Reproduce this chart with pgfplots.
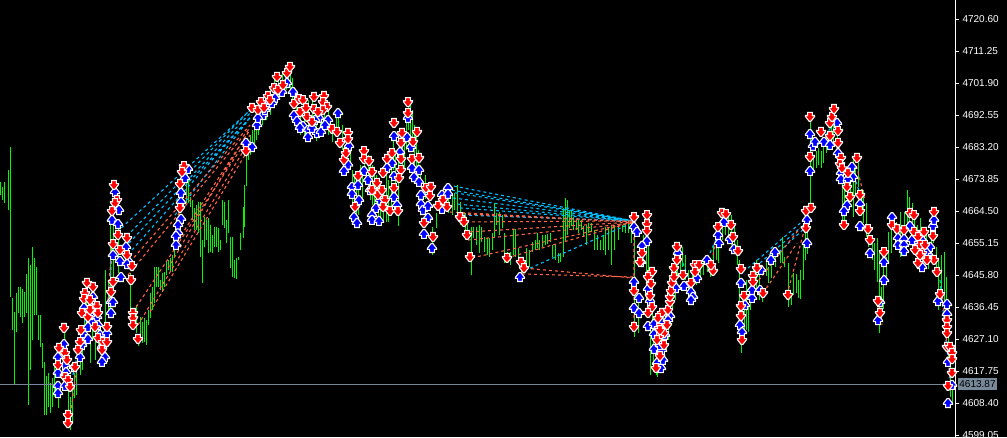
\documentclass[border=0pt]{standalone}
\usepackage{fontspec}
\setmainfont{Liberation Sans}
\usepackage{pgfplots}
\usepackage{pgfplotstable}
\pgfplotsset{compat=1.18}
\definecolor{barcol}{HTML}{00F800}
\definecolor{upline}{HTML}{00BFFF}
\definecolor{dnline}{HTML}{FF6347}
\definecolor{dnfill}{HTML}{FF0000}
\definecolor{upfill}{HTML}{0000FF}
\definecolor{bidline}{HTML}{778899}

% trade arrows, about 11 px across with the white rim, blunt tip
\pgfdeclareplotmark{dnarrow}{%
  \pgfpathmoveto{\pgfqpoint{-2.4pt}{4.5pt}}\pgfpathlineto{\pgfqpoint{2.4pt}{4.5pt}}%
  \pgfpathlineto{\pgfqpoint{2.4pt}{1.4pt}}\pgfpathlineto{\pgfqpoint{4.6pt}{1.4pt}}%
  \pgfpathlineto{\pgfqpoint{4.6pt}{0.4pt}}\pgfpathlineto{\pgfqpoint{0.9pt}{-4.4pt}}%
  \pgfpathlineto{\pgfqpoint{-0.9pt}{-4.4pt}}\pgfpathlineto{\pgfqpoint{-4.6pt}{0.4pt}}%
  \pgfpathlineto{\pgfqpoint{-4.6pt}{1.4pt}}\pgfpathlineto{\pgfqpoint{-2.4pt}{1.4pt}}%
  \pgfpathclose\pgfusepathqfillstroke}
\pgfdeclareplotmark{uparrow}{%
  \pgfpathmoveto{\pgfqpoint{-2.4pt}{-4.5pt}}\pgfpathlineto{\pgfqpoint{2.4pt}{-4.5pt}}%
  \pgfpathlineto{\pgfqpoint{2.4pt}{-1.4pt}}\pgfpathlineto{\pgfqpoint{4.6pt}{-1.4pt}}%
  \pgfpathlineto{\pgfqpoint{4.6pt}{-0.4pt}}\pgfpathlineto{\pgfqpoint{0.9pt}{4.4pt}}%
  \pgfpathlineto{\pgfqpoint{-0.9pt}{4.4pt}}\pgfpathlineto{\pgfqpoint{-4.6pt}{-0.4pt}}%
  \pgfpathlineto{\pgfqpoint{-4.6pt}{-1.4pt}}\pgfpathlineto{\pgfqpoint{-2.4pt}{-1.4pt}}%
  \pgfpathclose\pgfusepathqfillstroke}

\pgfplotstableread{
x lo hi
0 4669.2 4673.0
2 4667.7 4671.5
4 4666.8 4673.0
8 4664.8 4676.5
10 4639.4 4683.2
12 4629.7 4639.1
14 4613.6 4635.0
16 4629.1 4640.5
18 4634.7 4642.3
20 4633.5 4642.3
22 4631.8 4641.7
24 4633.5 4640.8
26 4634.7 4646.1
28 4607.8 4650.8
30 4618.0 4648.7
32 4626.8 4654.0
34 4634.1 4650.8
36 4634.1 4648.1
38 4626.8 4634.1
40 4624.8 4634.1
42 4618.6 4625.9
44 4604.9 4620.4
46 4604.9 4616.3
48 4607.2 4617.2
50 4605.5 4614.2
52 4607.2 4615.7
54 4610.1 4619.5
58 4606.9 4611.3
64 4625.9 4629.1
68 4602.5 4612.2
70 4600.5 4610.1
72 4602.5 4613.1
74 4609.9 4617.2
76 4610.7 4618.0
80 4616.6 4626.8
82 4618.0 4628.3
84 4625.3 4637.0
86 4625.3 4638.5
88 4629.7 4640.0
90 4620.1 4626.8
92 4626.8 4637.0
95 4621.0 4632.6
98 4623.9 4629.7
102 4619.5 4626.8
105 4629.7 4647.3
108 4634.1 4644.3
110 4634.7 4661.0
113 4644.3 4661.0
118 4646.4 4659.8
130 4634.7 4646.4
133 4629.7 4635.0
136 4628.8 4637.0
138 4625.0 4627.7
140 4627.7 4633.5
142 4625.9 4632.0
144 4626.2 4633.2
146 4625.3 4632.6
148 4631.2 4635.6
150 4633.2 4640.5
152 4635.6 4642.3
154 4637.6 4648.1
156 4642.3 4648.1
158 4642.3 4648.1
160 4641.4 4644.3
162 4640.8 4646.4
164 4642.3 4646.7
166 4645.8 4649.6
168 4647.3 4650.2
170 4646.7 4650.8
172 4646.7 4651.6
174 4651.0 4654.0
186 4666.8 4673.6
188 4666.8 4673.6
190 4665.7 4668.6
192 4661.9 4667.7
194 4658.9 4665.4
196 4658.9 4666.2
198 4658.0 4667.1
200 4651.0 4667.1
202 4643.5 4656.0
204 4654.0 4662.7
206 4656.0 4661.9
208 4652.2 4662.4
210 4652.5 4660.4
212 4652.2 4657.5
214 4654.0 4659.8
216 4654.0 4659.8
218 4652.5 4659.5
220 4653.1 4656.0
222 4660.4 4667.7
224 4659.5 4667.1
226 4655.1 4661.9
228 4658.0 4667.7
230 4647.8 4656.9
232 4645.2 4656.9
234 4644.9 4650.2
236 4644.6 4650.8
238 4650.2 4651.0
240 4653.1 4658.0
243 4656.6 4665.7
244 4659.8 4672.1
246 4671.8 4680.9
248 4679.4 4685.2
250 4680.9 4686.7
252 4682.3 4688.2
254 4683.8 4689.6
256 4685.2 4692.5
258 4686.7 4694.0
262 4689.6 4696.9
266 4691.1 4698.4
270 4692.5 4699.9
274 4695.5 4702.8
278 4696.9 4704.2
282 4698.4 4705.1
286 4699.9 4705.7
290 4699.9 4706.3
292 4696.9 4703.4
296 4688.8 4695.5
300 4686.7 4694.6
304 4685.8 4695.5
308 4688.2 4696.9
312 4686.7 4696.9
316 4685.0 4695.5
320 4688.2 4696.9
324 4689.6 4696.9
328 4686.7 4694.0
332 4684.7 4689.6
336 4687.3 4692.5
338 4689.0 4694.0
342 4682.3 4689.6
346 4680.9 4688.2
350 4678.0 4685.2
352 4666.2 4676.5
354 4660.4 4674.1
356 4659.8 4673.6
358 4663.3 4672.1
360 4670.6 4678.0
362 4667.7 4676.5
364 4675.0 4682.3
368 4670.6 4680.9
370 4667.7 4678.0
372 4666.2 4678.0
374 4666.2 4676.5
376 4664.8 4675.0
378 4661.9 4672.1
380 4661.3 4670.6
383 4661.0 4670.6
386 4661.3 4675.0
388 4661.3 4673.6
391 4663.0 4676.5
393 4676.5 4685.8
395 4667.7 4682.3
398 4660.1 4679.4
402 4678.0 4688.2
404 4676.5 4688.2
406 4682.3 4694.0
408 4688.2 4697.5
410 4683.8 4695.5
412 4682.3 4694.0
414 4678.0 4689.6
416 4676.5 4688.2
418 4673.6 4682.3
420 4672.1 4676.5
425 4668.0 4675.0
432 4651.6 4659.8
436 4659.5 4663.9
448 4663.9 4672.7
452 4663.3 4669.2
454 4664.8 4669.8
457 4663.9 4672.1
460 4660.4 4667.0
465 4656.0 4664.0
467 4656.0 4661.9
471 4645.8 4659.8
473 4656.6 4659.8
476 4654.6 4659.8
479 4652.2 4660.4
481 4655.4 4659.8
484 4652.5 4656.9
487 4651.6 4656.6
489 4651.0 4656.6
492 4653.1 4658.0
494 4656.9 4666.8
496 4660.4 4663.9
499 4657.5 4664.2
502 4659.5 4663.3
504 4649.3 4658.0
507 4650.2 4652.5
510 4648.7 4652.5
513 4651.6 4658.9
515 4651.0 4659.2
518 4648.7 4653.7
521 4644.0 4648.7
526 4648.7 4653.7
529 4648.1 4653.1
532 4652.5 4655.4
535 4653.1 4656.0
537 4653.7 4658.0
539 4653.1 4656.0
542 4654.0 4657.5
545 4654.6 4657.5
547 4655.0 4657.8
550 4655.4 4658.0
552 4651.0 4654.6
555 4650.2 4654.6
558 4649.3 4652.2
560 4649.6 4652.2
563 4651.0 4665.4
565 4655.4 4668.3
567 4657.5 4667.7
569 4659.5 4664.8
571 4660.0 4664.8
573 4659.0 4662.7
576 4659.0 4661.9
578 4658.0 4661.9
581 4659.0 4661.9
583 4657.0 4660.0
586 4654.6 4660.4
588 4658.0 4661.0
591 4658.5 4661.0
594 4653.1 4659.0
597 4653.1 4657.5
600 4653.1 4656.0
603 4653.1 4657.5
605 4651.6 4659.8
608 4653.1 4659.8
611 4648.7 4660.4
614 4653.1 4660.4
618 4656.0 4660.4
622 4658.5 4660.4
625 4658.0 4661.0
628 4658.0 4661.6
631 4655.1 4658.4
634 4627.7 4663.9
638 4628.8 4638.5
643 4653.1 4657.5
646 4638.5 4664.8
648 4647.3 4654.6
652 4626.8 4641.4
650 4616.6 4629.7
653 4617.4 4626.8
656 4616.6 4623.9
657 4616.0 4621.0
660 4618.0 4625.3
663 4619.5 4629.7
666 4623.9 4635.6
668 4626.8 4641.4
670 4632.6 4644.3
672 4635.6 4648.7
675 4638.5 4653.1
677 4645.8 4654.6
680 4647.3 4654.6
682 4648.1 4654.0
685 4644.3 4651.6
688 4641.4 4647.3
692 4641.4 4648.7
696 4642.9 4648.7
700 4644.3 4650.2
703 4645.8 4650.2
707 4646.7 4651.6
710 4645.2 4649.3
713 4648.7 4654.6
716 4650.2 4656.0
718 4649.3 4655.1
722 4656.0 4663.3
725 4657.5 4664.8
728 4657.5 4664.8
731 4654.6 4663.3
734 4653.1 4660.4
737 4648.7 4656.0
739 4632.6 4650.2
741 4623.0 4637.0
744 4626.8 4638.5
746 4629.7 4644.3
748 4629.1 4636.4
750 4635.6 4639.4
753 4638.5 4647.3
756 4641.4 4650.2
759 4638.5 4647.3
762 4637.9 4642.3
766 4645.5 4650.0
768 4643.5 4648.1
771 4645.0 4649.0
775 4648.1 4653.1
780 4649.3 4653.1
782 4649.3 4656.9
784 4648.0 4651.0
788 4636.4 4649.3
791 4637.0 4640.0
793 4640.0 4646.4
796 4640.5 4646.0
798 4639.1 4644.3
800 4638.8 4647.3
803 4644.3 4655.1
805 4650.2 4658.0
807 4652.0 4660.0
810 4664.8 4690.5
813 4676.5 4680.3
816 4677.0 4682.0
818 4678.0 4683.0
821 4677.0 4682.0
823 4678.5 4683.8
826 4681.4 4687.3
828 4682.3 4688.0
831 4684.0 4689.0
833 4685.0 4690.0
837 4682.3 4688.0
839 4676.5 4682.0
842 4661.9 4673.6
844 4659.0 4670.6
847 4666.0 4672.5
850 4668.6 4677.4
853 4662.7 4680.3
855 4669.0 4678.0
858 4671.5 4678.5
861 4664.0 4671.0
863 4661.0 4670.6
866 4656.9 4666.8
868 4654.0 4658.0
872 4650.2 4656.0
874 4647.3 4655.1
877 4643.8 4656.6
879 4628.8 4653.1
881 4637.6 4642.3
883 4636.0 4653.0
886 4644.0 4651.0
888 4649.3 4658.4
891 4652.2 4663.3
894 4658.0 4663.3
896 4654.0 4661.3
900 4651.0 4664.2
904 4651.6 4664.2
907 4658.9 4670.6
909 4658.9 4668.5
912 4660.4 4666.8
914 4657.5 4664.2
917 4652.5 4660.4
920 4656.0 4662.4
923 4652.0 4659.0
926 4650.0 4657.5
928 4647.5 4654.5
931 4655.1 4661.0
933 4655.1 4662.0
936 4647.0 4654.0
938 4635.6 4650.2
941 4640.0 4651.5
944 4636.4 4652.5
946 4633.5 4645.2
948 4620.0 4628.0
950 4610.1 4624.8
952 4608.0 4613.0
}\bars

\begin{document}
\begin{tikzpicture}
\path[use as bounding box, clip] (0,0) rectangle (1007pt,437pt);
\fill[black] (0,0) rectangle (1007pt,437pt);
\begin{axis}[
  at={(0,0)}, anchor=south west,
  scale only axis,
  width=955pt, height=437pt,
  xmin=0, xmax=955,
  ymin=4598.46, ymax=4726.15,
  axis x line=none,
  axis y line=right,
  y axis line style={white, -},
  xtick=\empty,
  ytick={4599.05,4608.40,4617.75,4627.10,4636.45,4645.80,4655.15,4664.50,4673.85,4683.20,4692.55,4701.90,4711.25,4720.60},
  tick style={white},
  tick align=outside,
  major tick length=4pt,
  yticklabel style={text=white, font=\fontsize{10}{12}\selectfont, xshift=0pt, /pgf/number format/.cd, fixed, fixed zerofill, precision=2, 1000 sep={}, assume math mode=true},
  clip=false,
]
% price bars, low to high
\addplot[draw=none, mark=none, forget plot,
  error bars/.cd, y dir=plus, y explicit, error mark=none,
  error bar style={barcol, line width=1pt}]
  table[x=x, y=lo, y error expr=\thisrow{hi}-\thisrow{lo}] {\bars};
% current bid
\addplot[bidline, line width=1pt, forget plot] coordinates {(0,4613.87) (955,4613.87)};
% buy arrows
\addplot[only marks, mark=uparrow, mark options={fill=upfill, draw=white, line width=1.1pt}] coordinates {
(64,4625.6) (58,4621.8) (65,4619.5) (58,4617.2) (58,4613.4) (58,4611.3) (65,4613.4) (66,4617.4) (74,4618.9) (80,4621.8) (82,4625.3) (83,4628.8) (84,4636.2) (93,4639.4) (92,4636.2) (97,4633.5) (92,4632.0) (88,4630.6) (88,4627.1) (98,4631.2)
(90,4634.1) (100,4628.3)
(102,4624.8) (105,4621.8) (102,4620.4) (107,4628.8)
(115,4670.0) (119,4664.8) (112,4661.9) (118,4660.7) (113,4651.6) (126,4654.0) (120,4649.9) (129,4649.6) (127,4649.0) (121,4645.2) (111,4637.9) (111,4634.7) (113,4637.9)
(188,4676.8) (185,4674.1) (181,4669.8) (181,4667.1) (181,4662.2) (178,4660.4) (178,4658.0) (176,4657.2) (176,4654.6)
(293,4699.3) (287,4701.9) (280,4700.4) (275,4697.5) (268,4695.5) (263,4692.5) (257,4689.6) (252,4683.2) (246,4684.4)
(258,4691.7) (265,4694.0) (272,4696.0) (282,4699.3)
(294,4692.5) (297,4690.8) (303,4689.3) (308,4688.2) (308,4686.1) (317,4687.3) (321,4687.6) (319,4691.7) (338,4693.1) (328,4691.1)
(300,4688.8) (312,4688.8) (325,4689.6) (315,4691.1)
(349,4683.5) (348,4678.0) (344,4676.2) (364,4676.2) (368,4673.6)
(352,4671.5) (358,4672.1) (352,4669.5) (359,4667.7) (354,4662.7) (357,4661.0) (370,4670.6) (376,4665.4) (372,4663.3) (372,4661.9) (379,4661.6) (380,4667.7)
(394,4686.4) (400,4681.7) (392,4678.5) (387,4677.1) (394,4674.7) (408,4691.7) (407,4686.1) (411,4683.2) (412,4677.1) (419,4676.5) (414,4674.4) (419,4673.0) (394,4668.6) (397,4666.2) (421,4669.2) (421,4666.5) (423,4664.8) (428,4666.0) (428,4662.5) (424,4657.8) (432,4653.7) (442,4669.2) (448,4671.2) (448,4669.5) (442,4665.1)
(520,4645.2)
(634,4659.8) (637,4658.4) (647,4655.7) (642,4654.3) (641,4649.6) (634,4643.8) (639,4639.1) (634,4636.2) (639,4634.7) (648,4641.7) (650,4638.2) (648,4630.9) (654,4631.5) (654,4628.5) (654,4624.2) (662,4631.8) (662,4623.9) (657,4620.1) (661,4618.6) (670,4633.8) (668,4632.6) (678,4652.2) (676,4642.0) (684,4642.6) (691,4640.8) (693,4639.4) (691,4638.5) (697,4644.9) (707,4650.2) (719,4655.1) (718,4657.5) (724,4661.3) (730,4656.3) (734,4653.4) (741,4643.5) (740,4631.2) (742,4629.1) (745,4637.0) (752,4639.1) (752,4641.4) (760,4641.4) (761,4647.3) (771,4650.2) (775,4652.5) (807,4661.9) (807,4655.1)
(660,4625.3) (665,4628.3) (663,4621.0)
(810,4687.0) (810,4676.2) (813,4683.5) (815,4684.7) (824,4684.7) (830,4683.8) (837,4690.2) (838,4681.4) (841,4675.6) (841,4673.8) (852,4677.4) (853,4674.4) (848,4673.8) (847,4666.2) (844,4664.5) (860,4666.5) (860,4660.1) (870,4652.2) (884,4649.6) (884,4644.3) (880,4637.9) (878,4632.6) (892,4662.7) (898,4656.6) (898,4654.6) (904,4656.3) (904,4654.6) (904,4652.8) (910,4660.1) (918,4653.4) (922,4648.1) (928,4651.9) (930,4654.0) (933,4660.1) (934,4661.9) (938,4638.2) (947,4637.3) (947,4634.4) (948,4608.4) (952,4613.7) (948,4620.4)
(915,4655.1) (922,4656.0) (926,4652.5) (912,4656.0)
};
% sell arrows
\addplot[only marks, mark=dnarrow, mark options={fill=dnfill, draw=white, line width=1.1pt}] coordinates {
(64,4630.3) (59,4624.5) (65,4623.0) (67,4621.0) (65,4616.0) (68,4615.1) (70,4613.1) (68,4604.9) (68,4602.5) (58,4619.5)
(87,4643.5) (93,4642.3) (85,4640.5) (84,4638.8) (82,4634.7) (97,4636.7) (98,4634.7) (88,4633.5) (81,4629.7) (80,4626.2) (78,4623.9) (75,4618.9)
(90,4638.5) (90,4635.6)
(95,4630.6) (98,4627.4) (107,4630.6) (103,4626.2) (107,4626.2) (102,4623.9)
(114,4672.1) (117,4667.7) (115,4666.8) (112,4664.5) (118,4657.5) (127,4656.6) (113,4654.8) (120,4653.1) (127,4651.6) (113,4643.8) (131,4644.3) (111,4640.8) (132,4648.4)
(133,4634.7) (133,4633.2) (133,4631.2) (138,4627.1)
(184,4677.6) (182,4675.9) (180,4672.4) (180,4665.4)
(246,4682.0) (252,4694.6) (261,4696.3) (268,4698.1) (274,4700.4) (277,4703.7) (287,4704.8) (290,4706.6)
(258,4694.0) (264,4694.6) (270,4696.9) (278,4699.9) (283,4701.3)
(294,4695.8) (299,4697.2) (303,4696.9) (314,4697.8) (324,4698.1) (323,4696.3) (314,4694.3) (327,4694.9) (323,4694.0) (307,4692.0)
(300,4693.4) (306,4694.6) (312,4690.5) (318,4693.4)
(332,4688.5) (337,4687.6) (340,4684.4) (348,4687.3) (348,4685.5) (344,4679.4) (346,4681.4)
(364,4682.0) (364,4679.7) (369,4679.1) (358,4674.7) (355,4665.7) (372,4675.9)
(378,4669.2) (382,4670.6) (385,4667.7)
(394,4690.2) (387,4679.7) (392,4681.4) (383,4675.6) (401,4684.4) (401,4679.7) (401,4676.5) (402,4687.3) (408,4696.3) (408,4693.1) (417,4687.6) (413,4684.7) (412,4679.7) (419,4680.0) (399,4674.1) (394,4671.2) (390,4664.5) (398,4664.5) (383,4665.7) (377,4672.7) (372,4670.6)
(426,4671.2) (431,4671.5) (430,4668.9) (438,4666.0) (443,4667.7) (447,4665.7) (424,4661.0) (460,4662.7) (464,4661.3) (467,4657.5) (470,4651.0) (433,4656.9)
(507,4650.8) (521,4649.6) (524,4647.8)
(634,4662.7) (647,4663.3) (647,4660.7) (647,4658.7) (642,4652.2) (640,4649.6) (652,4646.7) (648,4645.2) (651,4643.2) (650,4639.7) (652,4636.4) (648,4634.7) (634,4641.1) (634,4630.6) (662,4634.7) (658,4633.2) (668,4635.6) (670,4637.9) (670,4639.4) (671,4641.1) (672,4643.5) (674,4645.2) (674,4647.8) (677,4654.0) (677,4650.2) (659,4630.3) (664,4628.8) (659,4627.7) (660,4622.1) (656,4618.6)
(657,4626.8) (664,4625.3) (660,4629.7) (667,4631.2)
(683,4645.8) (691,4643.5) (695,4648.7) (699,4648.7) (695,4646.7) (713,4647.0) (711,4648.7) (722,4663.9) (726,4663.6) (718,4659.8) (731,4660.4) (733,4656.9) (738,4652.8) (741,4647.5) (744,4639.7) (741,4636.7) (741,4633.8) (742,4626.8) (753,4645.5) (753,4643.8) (757,4647.8) (763,4640.5) (788,4640.0) (806,4664.5) (811,4665.4) (806,4659.5)
(810,4692.0) (810,4680.3) (821,4687.6) (830,4690.2) (830,4686.4) (832,4692.0) (834,4694.3) (838,4687.9) (838,4684.4) (841,4680.0) (840,4678.2) (842,4677.0) (848,4675.6) (857,4680.0) (847,4671.5) (850,4668.6) (844,4660.4) (860,4669.2) (860,4664.5) (868,4659.2) (870,4656.0) (884,4652.5) (878,4638.2) (880,4634.7)
(892,4660.4) (897,4659.2) (904,4658.9) (910,4663.9) (914,4663.3) (914,4658.4) (918,4656.9) (924,4658.4) (934,4664.2) (933,4657.2) (934,4650.2) (922,4652.2) (918,4649.3) (937,4646.7) (940,4640.2) (947,4632.6) (947,4630.6) (947,4628.8) (947,4624.8) (950,4624.8) (952,4623.0) (952,4621.2) (952,4617.2) (948,4613.4)
(920,4654.6) (925,4654.6) (920,4651.6) (927,4650.2) (915,4653.1)
};
% trade lines
\addplot[upline, line width=1.1pt, dash pattern=on 3pt off 3pt, unbounded coords=jump] coordinates {
(127,4657.2) (250,4694.0) (0,nan)
(129,4655.1) (250,4693.1) (0,nan)
(132,4653.1) (252,4692.5) (0,nan)
(117,4658.4) (248,4693.4) (0,nan)
(175,4663.3) (250,4691.7) (0,nan)
(181,4670.6) (250,4691.7) (0,nan)
(73,4616.6) (85,4632.6) (0,nan)
(109,4638.5) (113,4656.0) (0,nan)
(448,4672.1) (634,4661.6) (0,nan)
(452,4670.6) (634,4661.6) (0,nan)
(455,4669.8) (634,4661.6) (0,nan)
(453,4668.3) (634,4661.6) (0,nan)
(458,4666.5) (634,4661.6) (0,nan)
(460,4665.4) (634,4661.6) (0,nan)
(463,4663.3) (634,4661.6) (0,nan)
(530,4647.8) (634,4661.3) (0,nan)
(760,4649.3) (807,4661.3) (0,nan)
(770,4650.2) (807,4660.1) (0,nan)
(748,4647.8) (806,4662.4) (0,nan)
(940,4644.3) (950,4615.1) (0,nan)
(852,4676.5) (862,4667.7) (0,nan)
(818,4683.8) (838,4691.7) (0,nan)
(710,4652.2) (720,4658.9) (0,nan)
(683,4649.3) (690,4643.5)
};
\addplot[dnline, line width=1.1pt, dash pattern=on 3pt off 3pt, unbounded coords=jump] coordinates {
(130,4649.6) (250,4689.6) (0,nan)
(128,4645.8) (250,4688.8) (0,nan)
(133,4635.0) (250,4686.7) (0,nan)
(138,4631.2) (250,4685.2) (0,nan)
(178,4656.0) (250,4688.2) (0,nan)
(168,4647.8) (248,4687.6) (0,nan)
(150,4635.0) (248,4682.3) (0,nan)
(70,4603.4) (76,4618.0) (0,nan)
(75,4618.0) (88,4634.1) (0,nan)
(108,4638.5) (112,4656.0) (0,nan)
(450,4664.2) (634,4661.3) (0,nan)
(462,4663.6) (634,4661.3) (0,nan)
(466,4661.3) (634,4661.6) (0,nan)
(470,4658.4) (634,4661.3) (0,nan)
(468,4656.0) (634,4661.0) (0,nan)
(472,4650.8) (634,4661.3) (0,nan)
(507,4650.8) (634,4661.3) (0,nan)
(525,4647.8) (634,4644.9) (0,nan)
(522,4646.1) (634,4645.2) (0,nan)
(763,4640.5) (797,4655.1) (0,nan)
(787,4640.0) (807,4661.9) (0,nan)
(755,4642.9) (800,4659.5) (0,nan)
(942,4641.4) (950,4615.1) (0,nan)
(855,4679.4) (865,4667.7) (0,nan)
(878,4638.5) (882,4631.2) (0,nan)
(713,4651.6) (718,4658.0) (0,nan)
(634,4660.4) (634,4629.7)
};
\node[fill=bidline, text=black, inner xsep=1pt, inner ysep=1pt, minimum height=12pt, minimum width=39pt, font=\fontsize{10}{12}\selectfont] at (axis cs:977.5,4613.87) {4613.87};
\end{axis}
\end{tikzpicture}
\end{document}
